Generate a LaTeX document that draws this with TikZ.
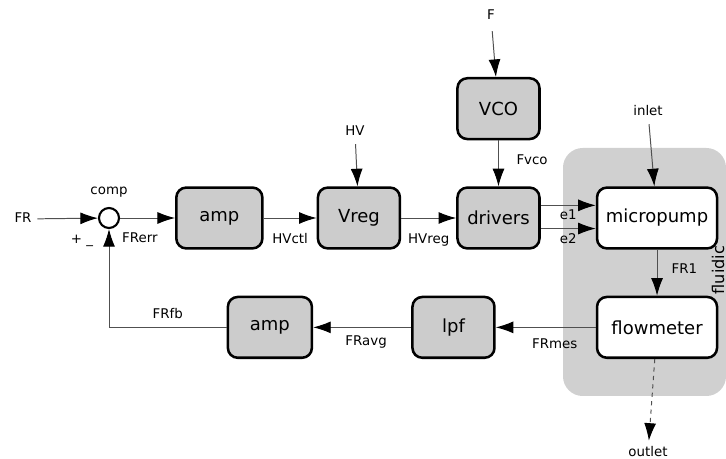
\documentclass[tikz,border=0pt]{standalone}
\usepackage{fontspec}
\setmainfont{DejaVu Sans}
\usepackage{tikz}
\usetikzlibrary{arrows.meta,positioning}

\definecolor{boxgray}{HTML}{CCCCCC}
\definecolor{bggray}{HTML}{D0D0D0}
\definecolor{wiregray}{HTML}{505050}
\newcommand\boxfont{\fontsize{12.8}{15}\selectfont}
\newcommand\lblfont{\fontsize{9.5}{11}\selectfont}

\tikzset{
  block/.style={draw, line width=1.8pt, rounded corners=7pt, fill=boxgray,
    minimum width=2.05cm, minimum height=1.52cm, font=\boxfont},
  fblock/.style={block, fill=white, minimum width=3cm},
  sumnode/.style={circle, draw, line width=1.5pt, fill=white,
    minimum size=0.5cm, inner sep=0pt},
  sig/.style={font=\lblfont, text height=7pt, text depth=2pt, inner sep=4pt},
  elbl/.style={font=\lblfont, text height=7pt, text depth=2pt, inner sep=1pt},
  wire/.style={draw=wiregray, line width=0.7pt}
}

\begin{document}
\begin{tikzpicture}[x=0.025cm, y=-0.025cm, node distance=1.375cm,
    >={Latex[length=12.5pt,width=8.5pt,color=black]}]
    \useasboundingbox (0,0) rectangle (726,459);
    % fluidic part
    \fill[bggray, rounded corners=14pt] (563,148) rectangle (726,396);
    \node[font=\fontsize{11.5}{13}\selectfont, rotate=90] (fluidic) at (718,270) {fluidic};

    \node[sumnode] (comp) at (109,218) {};
    \node[elbl] (complbl) [above=0.2cm of comp] {comp};
    \node[elbl] (signs) at (82,240) {+ \_};
    \node[block, minimum width=2.15cm] (amp1) [right=of comp] {amp};
    \node[block] (vreg) [right=1.325cm of amp1] {Vreg};
    \node[block] (drivers) [right=of vreg] {drivers};
    \node[block] (vco) [above=1.15cm of drivers] {VCO};
    \node[fblock] (pump) [right=of drivers] {micropump};
    \node[fblock] (flow) [below=1.15cm of pump] {flowmeter};
    \node[block] (lpf) [left=2.5cm of flow] {lpf};
    \node[block, minimum width=2.1cm] (amp2) [left=2.45cm of lpf] {amp};

    \node[sig] (fr) at (23,219) {FR};
    \node[sig, inner sep=6pt] (f) at (491,16) {F};
    \node[sig] (hv) at (355,132) {HV};
    \node[sig] (inlet) at (648,112) {inlet};
    \node[sig] (outlet) at (648,453) {outlet};
    \coordinate (e1a) at ([yshift=9pt]drivers.east);
    \coordinate (e2a) at ([yshift=-7.5pt]drivers.east);

    \path[wire, ->]
    (fr) edge (comp)
    (comp) edge node[elbl, pos=0.36, below=9pt] {FRerr} (amp1)
    (amp1) edge node[elbl, below=10pt] {HVctl} (vreg)
    (hv) edge (vreg)
    (vreg) edge node[elbl, below=10pt] {HVreg} (drivers)
    (f) edge (vco)
    (vco) edge node[elbl, pos=0.45, right=11.5pt] {Fvco} (drivers)
    (inlet) edge (pump)
    (pump) edge node[elbl, pos=0.45, right=9pt] {FR1} (flow)
    (flow) edge node[elbl, pos=0.41, below=6.5pt] {FRmes} (lpf)
    (lpf) edge node[elbl, pos=0.46, below=4.5pt] {FRavg} (amp2)
    (flow) edge[dashed] (outlet)
    ;
    \draw[wire, ->] (e1a) -- node[elbl, below=2pt] {e1} (e1a -| pump.west);
    \draw[wire, ->] (e2a) -- node[elbl, below=2.5pt] {e2} (e2a -| pump.west);
    \draw[wire, ->] (amp2.west) -- node[elbl, above=2.7pt] {FRfb} (amp2.west -| comp) -- (comp.south);
  \end{tikzpicture}
\end{document}
